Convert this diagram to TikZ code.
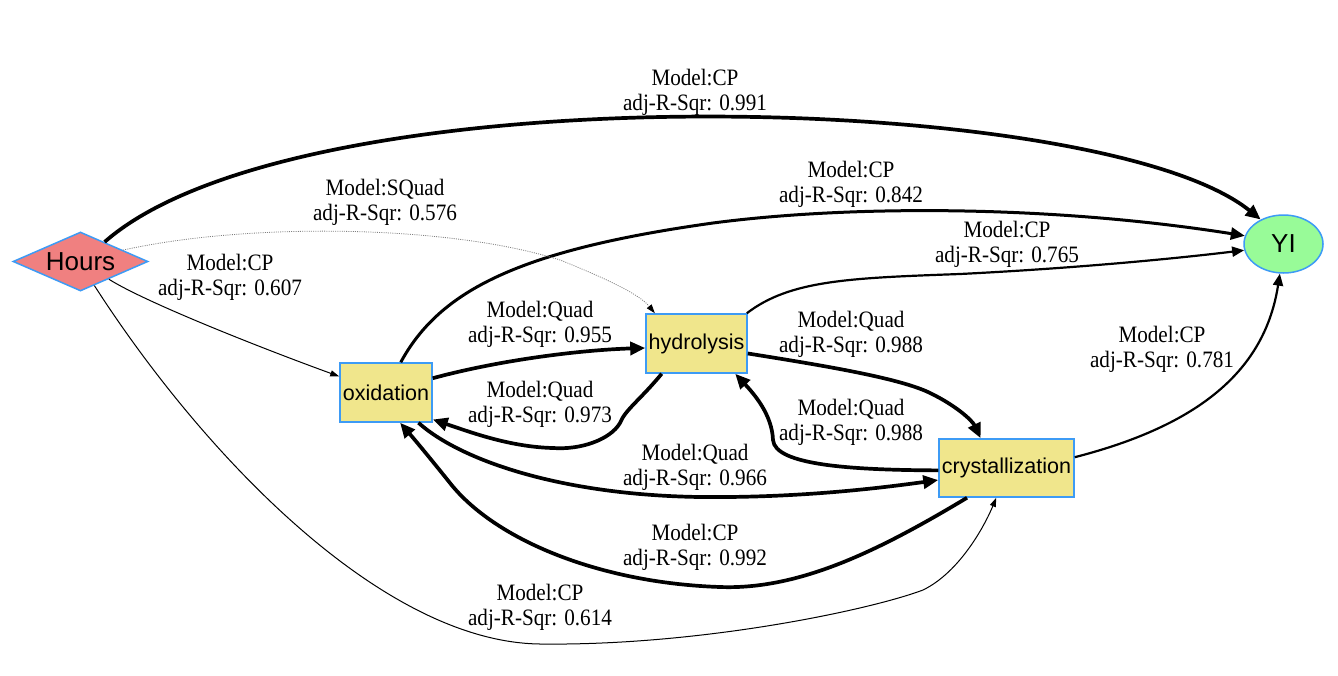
\documentclass[tikz,border=0pt]{standalone}
\usepackage{fontspec}
\setmainfont{Liberation Serif}
\newfontfamily\lblfont[FakeStretch=0.9]{Liberation Serif}
\newfontfamily\nodefont{Liberation Sans}
\usetikzlibrary{shapes.geometric,arrows.meta}
\definecolor{nodeblue}{HTML}{3D9BF5}
\definecolor{boxfill}{HTML}{F0E68C}
\definecolor{hoursfill}{HTML}{F08080}
\definecolor{yifill}{HTML}{98FB98}
\begin{document}
\begin{tikzpicture}[x=1pt,y=-1pt,
  nodeborder/.style={draw=nodeblue, line width=1.5pt},
  box/.style={nodeborder, rectangle, fill=boxfill, inner sep=0pt, font=\nodefont\fontsize{21.5}{24}\selectfont},
  lbl/.style={align=center, font=\lblfont\fontsize{23.5}{25}\selectfont, inner sep=0pt},
  heavy/.style={line width=3.7pt, -{Triangle[length=15pt,width=13pt]}},
  wthree/.style={line width=3pt, -{Triangle[length=14pt,width=12pt]}},
  wtwo/.style={line width=2.2pt, -{Triangle[length=12pt,width=10pt]}},
  thinedge/.style={line width=1pt, -{Triangle[length=9pt,width=6pt]}},
  dotedge/.style={draw=gray, line width=0.8pt, dash pattern=on 1pt off 1.2pt, -{Triangle[length=9pt,width=6pt,color=black]}}
]
\useasboundingbox (0,0) rectangle (1338,675);
\fill[white] (0,0) rectangle (1338,675);

% nodes
\node[nodeborder, diamond, aspect=2.4, fill=hoursfill, inner sep=0pt,
      minimum width=135pt, minimum height=59pt,
      font=\nodefont\fontsize{26}{28}\selectfont] (Hours) at (80.5,261.5) {Hours};
\node[nodeborder, ellipse, fill=yifill, inner sep=0pt,
      minimum width=79pt, minimum height=58pt,
      font=\nodefont\fontsize{26}{28}\selectfont] (YI) at (1283.5,244) {YI};
\node[box, minimum width=92pt, minimum height=59pt] (oxidation) at (386,392.5) {oxidation};
\node[box, minimum width=101pt, minimum height=59pt] (hydrolysis) at (696.5,343.5) {hydrolysis};
\node[box, minimum width=135pt, minimum height=58pt] (crystallization) at (1006.5,468) {crystallization};

% edges
\draw[heavy] (Hours.39) .. controls (300,70) and (1100,90) .. (YI.133);
\draw[wthree] (oxidation.64) .. controls (440,290) and (520,250) .. (713,223)
   .. controls (850,205) and (1050,205) .. (YI.168);
\draw[wtwo] (hydrolysis.31) .. controls (790,280) and (850,278) .. (960,274)
   .. controls (1080,268) and (1180,258) .. (YI.189);
\draw[wtwo] (crystallization.9) .. controls (1200,425) and (1265,370) .. (YI.263);
\draw[dotedge] (Hours.15) .. controls (250,222) and (450,225) .. (560,260)
   .. controls (610,280) and (640,295) .. (hydrolysis.144);
\draw[thinedge] (Hours.-32) .. controls (150,305) and (280,355) .. (oxidation.161);
\draw[thinedge] (Hours.-60) .. controls (200,450) and (380,642) .. (540,644)
   .. controls (700,646) and (870,610) .. (923,590)
   .. controls (960,572) and (985,525) .. (crystallization.251);
\draw[heavy] (oxidation.17) .. controls (500,360) and (580,350) .. (hydrolysis.185);
\draw[heavy] (hydrolysis.221) .. controls (640,400) and (625,410) .. (620,423)
   .. controls (610,440) and (580,450) .. (553,448)
   .. controls (510,447) and (470,432) .. (oxidation.330);
\draw[heavy] (hydrolysis.349) .. controls (820,365) and (900,378) .. (930,393)
   .. controls (955,405) and (972,420) .. (crystallization.131);
\draw[heavy] (crystallization.182) .. controls (850,470) and (775,465) .. (773,440)
   .. controls (772,415) and (755,395) .. (hydrolysis.322);
\draw[heavy] (oxidation.317) .. controls (460,460) and (560,495) .. (700,497)
   .. controls (800,498) and (880,488) .. (crystallization.190);
\draw[heavy] (crystallization.217) .. controls (880,550) and (800,590) .. (720,587)
   .. controls (600,583) and (495,540) .. (450,483)
   .. controls (430,458) and (415,440) .. (oxidation.295);

% labels
\node[lbl] (l1) at (695,92.5) {Model:CP\\adj-R-Sqr: 0.991};
\node[lbl] (l2) at (851,184.5) {Model:CP\\adj-R-Sqr: 0.842};
\node[lbl] (l3) at (385,202.5) {Model:SQuad\\adj-R-Sqr: 0.576};
\node[lbl] (l4) at (1007,244.5) {Model:CP\\adj-R-Sqr: 0.765};
\node[lbl] (l5) at (230,277.5) {Model:CP\\adj-R-Sqr: 0.607};
\node[lbl] (l6) at (540,324.5) {Model:Quad\\adj-R-Sqr: 0.955};
\node[lbl] (l7) at (851,334.5) {Model:Quad\\adj-R-Sqr: 0.988};
\node[lbl] (l8) at (1162,349.5) {Model:CP\\adj-R-Sqr: 0.781};
\node[lbl] (l9) at (540,404.5) {Model:Quad\\adj-R-Sqr: 0.973};
\node[lbl] (l10) at (851,422.5) {Model:Quad\\adj-R-Sqr: 0.988};
\node[lbl] (l11) at (695,467.5) {Model:Quad\\adj-R-Sqr: 0.966};
\node[lbl] (l12) at (695,547.5) {Model:CP\\adj-R-Sqr: 0.992};
\node[lbl] (l13) at (540,607.5) {Model:CP\\adj-R-Sqr: 0.614};
\end{tikzpicture}
\end{document}
